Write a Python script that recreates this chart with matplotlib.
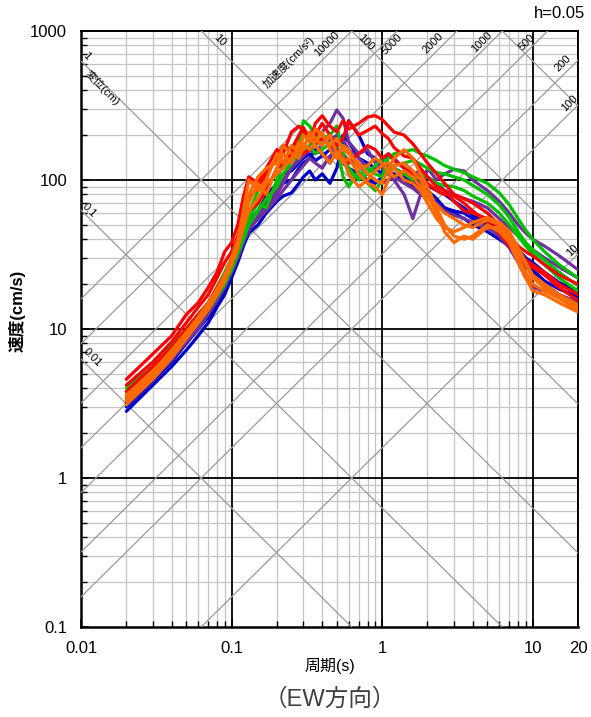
import numpy as np
import matplotlib
matplotlib.use("Agg")
import matplotlib.pyplot as plt
from matplotlib.ticker import FixedLocator, NullFormatter

plt.rcParams['font.family'] = ['Liberation Sans', 'Noto Sans CJK JP', 'DejaVu Sans']

# ---------------- data ----------------
periods = [0.02, 0.03, 0.04, 0.05, 0.06, 0.07, 0.08, 0.09, 0.1, 0.11, 0.12, 0.13, 0.15, 0.17,
           0.2, 0.22, 0.25, 0.28, 0.3, 0.33, 0.36, 0.4, 0.45, 0.5, 0.55, 0.6, 0.7, 0.8, 0.9,
           1.0, 1.1, 1.2, 1.4, 1.6, 1.8, 2.0, 2.3, 2.6, 3.0, 3.5, 4.0, 5.0, 6.0, 7.0, 8.0,
           9.0, 10, 12, 15, 20]

red1 = [4.6, 6.8, 9.0, 12.5, 15, 19, 24, 33, 38, 50, 78, 105, 95, 120, 160, 150, 210, 230, 215,
        180, 240, 270, 230, 210, 250, 220, 240, 265, 270, 255, 230, 210, 200, 175, 150, 130, 110,
        95, 80, 75, 70, 60, 50, 42, 36, 33, 31, 27, 23, 20]
red2 = [4.2, 6.0, 8.2, 11, 14, 17, 22, 28, 33, 42, 60, 75, 90, 110, 140, 170, 160, 200, 225, 190,
        200, 240, 200, 170, 190, 250, 200, 215, 230, 205, 190, 165, 145, 140, 120, 105, 90, 85,
        72, 62, 60, 55, 48, 40, 33, 29, 27, 24, 20, 17]
red3 = [3.8, 5.6, 7.5, 10, 12.5, 15, 19, 23, 29, 38, 52, 62, 70, 85, 120, 130, 150, 170, 150,
        160, 175, 190, 170, 160, 140, 130, 150, 170, 160, 140, 150, 135, 120, 110, 105, 95, 85,
        80, 78, 70, 62, 52, 44, 36, 31, 28, 26, 23, 19, 15.5]
green1 = [4.0, 5.6, 7.8, 10, 12.5, 15, 19, 24, 30, 38, 48, 60, 85, 90, 110, 120, 140, 180, 250,
          230, 200, 170, 200, 230, 150, 110, 105, 120, 110, 105, 140, 150, 155, 160, 150, 145,
          135, 125, 118, 112, 105, 95, 82, 68, 55, 46, 40, 33, 27, 22]
green2 = [3.6, 5.2, 7.0, 9.2, 11.5, 14, 17, 21, 27, 34, 44, 55, 70, 65, 100, 130, 165, 190, 210,
          180, 170, 190, 200, 170, 105, 90, 115, 95, 85, 100, 115, 125, 130, 135, 128, 120, 112,
          110, 105, 100, 92, 80, 68, 56, 45, 38, 34, 29, 24, 19.5]
green3 = [3.4, 5.0, 6.8, 8.8, 11, 13.5, 16.5, 20, 25, 32, 40, 50, 62, 75, 90, 110, 130, 150, 160,
          170, 150, 160, 175, 160, 140, 120, 100, 110, 125, 140, 130, 120, 110, 100, 110, 105, 95,
          92, 90, 85, 78, 70, 60, 50, 42, 36, 32, 27, 22, 18]
blue1 = [2.8, 4.2, 5.6, 7.2, 9, 11, 14, 17, 22, 28, 36, 44, 50, 60, 72, 78, 82, 95, 105, 115,
         100, 110, 95, 120, 180, 250, 200, 150, 140, 120, 110, 100, 105, 95, 90, 85, 75, 65, 60,
         55, 50, 45, 40, 36, 32, 28, 25, 21, 18.5, 16.5]
blue2 = [3.0, 4.5, 6.0, 8.0, 10, 12, 14.5, 18, 24, 31, 40, 48, 55, 70, 85, 95, 100, 120, 130,
         140, 160, 150, 130, 170, 200, 180, 140, 130, 120, 110, 125, 120, 110, 100, 95, 92, 85,
         80, 72, 65, 58, 52, 46, 40, 34, 30, 28, 24, 20.5, 18]
blue3 = [3.2, 4.8, 6.4, 8.5, 10.5, 13, 16, 20, 26, 33, 42, 52, 62, 78, 95, 110, 115, 130, 140,
         150, 135, 145, 160, 150, 130, 120, 110, 100, 95, 105, 115, 110, 100, 92, 85, 80, 70, 65,
         62, 60, 55, 50, 45, 38, 30, 26, 24, 20, 17, 15]
purple1 = [3.3, 4.9, 6.6, 8.6, 10.5, 13, 16, 20, 25, 32, 40, 48, 58, 65, 80, 95, 120, 140, 150,
           170, 190, 210, 240, 295, 260, 180, 150, 160, 130, 120, 110, 100, 80, 55, 80, 120, 100,
           110, 118, 115, 100, 85, 72, 60, 50, 44, 40, 36, 31, 25]
purple2 = [3.5, 5.1, 6.8, 9.0, 11, 13.5, 17, 21, 27, 33, 42, 52, 60, 72, 85, 100, 120, 135, 145,
           160, 150, 175, 185, 200, 185, 160, 140, 120, 115, 130, 150, 140, 120, 110, 115, 105,
           95, 85, 80, 75, 72, 65, 55, 48, 42, 37, 34, 30, 26, 22]
purple3 = [3.2, 4.6, 6.2, 8.2, 10, 12.5, 15.5, 19, 24, 30, 38, 46, 55, 62, 75, 85, 100, 115, 125,
           140, 130, 120, 145, 160, 150, 135, 125, 110, 100, 95, 100, 105, 95, 88, 80, 75, 70, 62,
           58, 55, 52, 48, 42, 35, 28, 22, 19, 18, 17, 15]
orange1 = [3.6, 5.2, 7.2, 9.5, 12, 15, 18.5, 23, 30, 40, 62, 100, 85, 100, 150, 130, 170, 150,
           200, 180, 220, 200, 170, 190, 160, 150, 130, 110, 100, 95, 120, 140, 160, 140, 110, 90,
           65, 50, 42, 40, 42, 50, 45, 38, 28, 22, 18, 17, 15, 13]
orange2 = [3.3, 4.9, 6.7, 9.0, 11.5, 14, 17.5, 22, 28, 36, 50, 70, 95, 80, 120, 150, 130, 180,
           160, 210, 190, 170, 200, 150, 130, 140, 110, 95, 90, 80, 100, 125, 130, 115, 100, 80,
           60, 45, 38, 42, 40, 48, 48, 40, 30, 24, 20, 18, 16, 14]
orange3 = [3.1, 4.6, 6.4, 8.6, 11, 13.5, 17, 21, 27, 35, 48, 62, 75, 95, 110, 120, 140, 160, 175,
           160, 180, 210, 160, 140, 170, 160, 120, 125, 140, 130, 115, 105, 115, 105, 90, 75, 68,
           60, 55, 50, 48, 54, 50, 42, 33, 27, 22, 19, 16, 13.5]
orange4 = [3.4, 5.0, 7.0, 9.3, 11.8, 14.5, 18, 22.5, 29, 38, 55, 80, 105, 120, 130, 170, 150, 140,
           165, 200, 170, 150, 130, 155, 140, 110, 90, 100, 115, 125, 130, 120, 100, 95, 85, 70,
           55, 48, 45, 48, 52, 56, 52, 45, 35, 28, 23, 20, 17, 14.5]

series = [
    ("#0000c8", [blue1, blue2, blue3]),
    ("#7030a0", [purple1, purple2, purple3]),
    ("#00c000", [green1, green2, green3]),
    ("#ff0000", [red1, red2, red3]),
    ("#ff6a00", [orange1, orange2, orange3, orange4]),
]

disp_levels = [0.01, 0.1, 1, 10, 100, 1000]          # cm
acc_levels = [10, 100, 200, 500, 1000, 2000, 5000, 10000]  # cm/s^2

x_ticks = [0.01, 0.1, 1, 10, 20]
x_ticklabels = ["0.01", "0.1", "1", "10", "20"]
y_ticks = [0.1, 1, 10, 100, 1000]
y_ticklabels = ["0.1", "1", "10", "100", "1000"]

# ---------------- figure ----------------
fig = plt.figure(figsize=(5.91, 7.17), dpi=100)
ax = fig.add_axes([81 / 591, 1 - 627 / 717, (578 - 81) / 591, (627 - 31) / 717])
ax.set_xscale("log")
ax.set_yscale("log")
xmin, xmax, ymin, ymax = 0.01, 20, 0.1, 1000
ax.set_xlim(xmin, xmax)
ax.set_ylim(ymin, ymax)

# grid
minor_x = [m * d for d in (0.01, 0.1, 1) for m in range(2, 10)]
minor_y = [m * d for d in (0.1, 1, 10, 100) for m in range(2, 10)]
for v in minor_x:
    ax.axvline(v, color="#c4c4c4", lw=0.9, zorder=1)
for v in minor_y:
    ax.axhline(v, color="#c4c4c4", lw=0.9, zorder=1)
for v in [0.1, 1, 10]:
    ax.axvline(v, color="black", lw=1.3, zorder=2)
for v in [1, 10, 100]:
    ax.axhline(v, color="black", lw=1.3, zorder=2)

# tripartite diagonal lines
tt = np.array([xmin, xmax])
for d in disp_levels:
    ax.plot(tt, 2 * np.pi * d / tt, color="#9a9a9a", lw=0.9, zorder=3)
for a in acc_levels:
    ax.plot(tt, a * tt / (2 * np.pi), color="#9a9a9a", lw=0.9, zorder=3)

# data
for color, curves in series:
    for c in curves:
        ax.plot(periods, c, color=color, lw=2.3, zorder=5, solid_joinstyle="round",
                solid_capstyle="round")

# ticks
ax.xaxis.set_major_locator(FixedLocator(x_ticks))
ax.set_xticklabels(x_ticklabels)
ax.yaxis.set_major_locator(FixedLocator(y_ticks))
ax.set_yticklabels(y_ticklabels)
ax.xaxis.set_minor_locator(FixedLocator(minor_x))
ax.yaxis.set_minor_locator(FixedLocator(minor_y))
ax.xaxis.set_minor_formatter(NullFormatter())
ax.yaxis.set_minor_formatter(NullFormatter())
ax.tick_params(which="both", direction="in", labelsize=12, pad=10)
ax.tick_params(which="major", length=6, width=1.2)
ax.tick_params(which="minor", length=4, width=1.0)

for s in ["left", "bottom"]:
    ax.spines[s].set_linewidth(1.8)
for s in ["top", "right"]:
    ax.spines[s].set_linewidth(1.4)

# diagonal labels (pixel positions converted to figure fractions)
def fx(px):
    return px / 591
def fy(py):
    return 1 - py / 717

lab_kw = dict(fontsize=8, ha="center", va="center", transform=fig.transFigure, zorder=6)
fig.text(fx(86), fy(56), "1", rotation=-45, **lab_kw)
fig.text(fx(102), fy(88), "変位(cm)", rotation=-45, **lab_kw)
fig.text(fx(89), fy(210), "0.1", rotation=-45, **lab_kw)
fig.text(fx(92), fy(357), "0.01", rotation=-45, **lab_kw)
fig.text(fx(220), fy(40), "10", rotation=-45, **lab_kw)
fig.text(fx(366), fy(42), "100", rotation=-45, **lab_kw)
fig.text(fx(289), fy(62), "加速度(cm/s²)", rotation=45, **lab_kw)
fig.text(fx(327), fy(44), "10000", rotation=45, **lab_kw)
fig.text(fx(392), fy(44), "5000", rotation=45, **lab_kw)
fig.text(fx(433), fy(43), "2000", rotation=45, **lab_kw)
fig.text(fx(482), fy(42), "1000", rotation=45, **lab_kw)
fig.text(fx(527), fy(42), "500", rotation=45, **lab_kw)
fig.text(fx(563), fy(63), "200", rotation=45, **lab_kw)
fig.text(fx(570), fy(103), "100", rotation=45, **lab_kw)
fig.text(fx(572), fy(251), "10", rotation=45, **lab_kw)

fig.text(fx(585), fy(14), "h=0.05", fontsize=12, ha="right", va="center")
fig.text(fx(17), fy(311), "速度(cm/s)", fontsize=12, rotation=90, ha="center", va="center",
         fontweight="bold")
fig.text(fx(330), fy(666), "周期(s)", fontsize=11.5, ha="center", va="center")
fig.text(fx(330), fy(699), "（EW方向）", fontsize=17, ha="center", va="center", color="#404040")

fig.savefig("out.png", dpi=100)
